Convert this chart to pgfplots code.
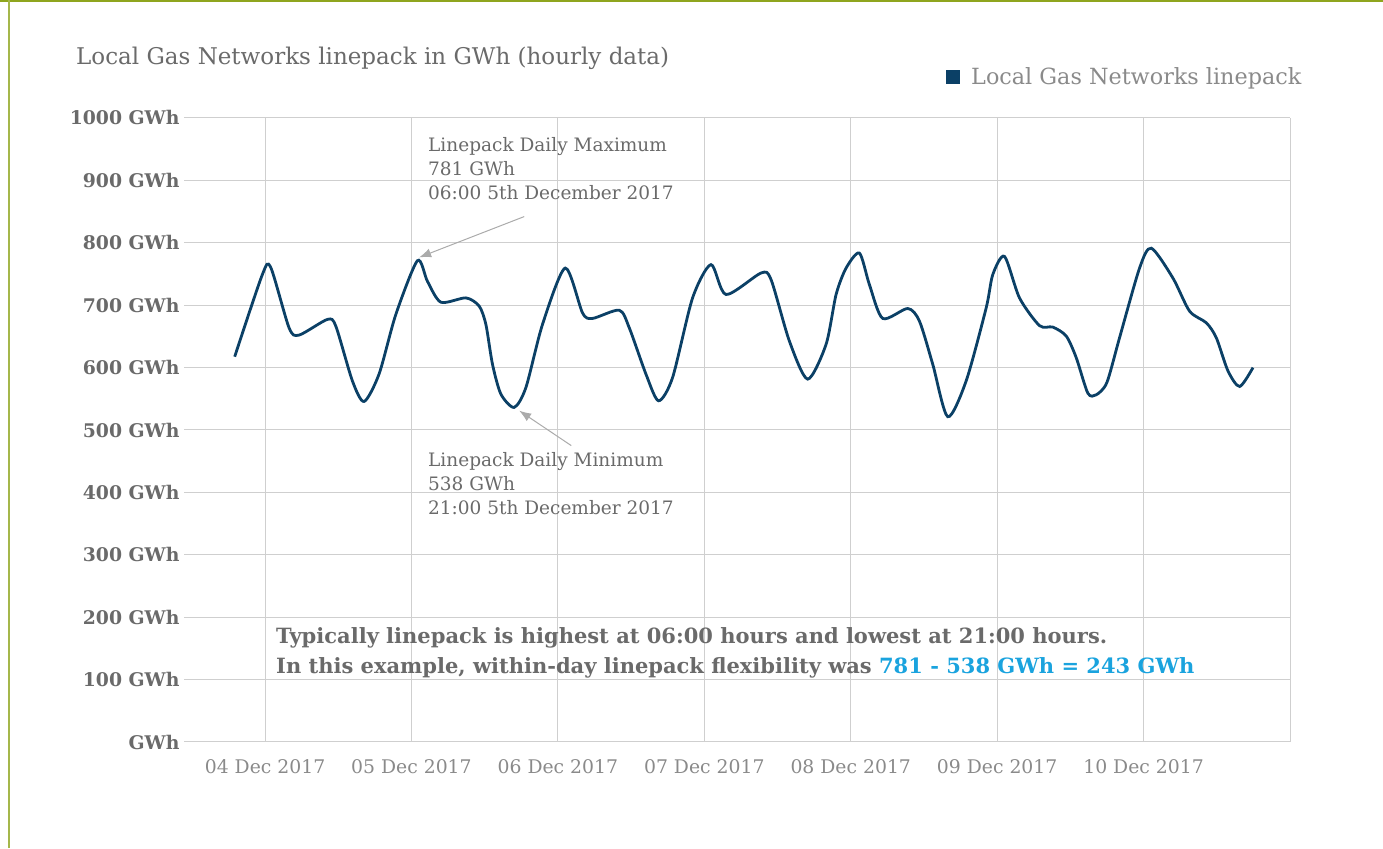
\documentclass[border=0pt]{standalone}
\usepackage{fontspec}
\setmainfont{DejaVu Serif}
\usepackage{pgfplots}
\pgfplotsset{compat=1.18}
\usetikzlibrary{arrows.meta}
\definecolor{linecol}{HTML}{0B4066}
\definecolor{txtgray}{HTML}{6A6A6A}
\definecolor{lightgray}{HTML}{8A8A8A}
\definecolor{gridcol}{HTML}{CFCFCF}
\definecolor{arrowcol}{HTML}{ABABAB}
\definecolor{bluetxt}{HTML}{1AA3DE}
\definecolor{bordercol}{HTML}{8FA51E}
\begin{document}
\begin{tikzpicture}[x=1pt,y=1pt]
\path[use as bounding box] (0,0) rectangle (1383,848);
\draw[bordercol, line width=2pt] (0,847) -- (1383,847);
\draw[bordercol!80, line width=2pt] (9,0) -- (9,848);
\begin{axis}[
  at={(184pt,106pt)}, anchor=south west,
  scale only axis, width=1106pt, height=624pt,
  xmin=-13.28, xmax=168, ymin=0, ymax=1000,
  axis line style={draw=none},
  tick style={draw=none},
  xtick={0,24,...,168},
  xticklabels={04 Dec 2017,05 Dec 2017,06 Dec 2017,07 Dec 2017,08 Dec 2017,09 Dec 2017,10 Dec 2017,},
  ytick={0,100,...,1000},
  yticklabels={GWh,100 GWh,200 GWh,300 GWh,400 GWh,500 GWh,600 GWh,700 GWh,800 GWh,900 GWh,1000 GWh},
  grid=major,
  grid style={gridcol, line width=1pt},
  x tick label style={font=\fontsize{18.8}{20}\selectfont, text=lightgray, yshift=-14pt},
  y tick label style={font=\bfseries\fontsize{18.8}{20}\selectfont, text=txtgray, xshift=-1pt},
  clip=false,
]
\addplot[linecol, line width=2.8pt, smooth, tension=0.45] coordinates {
(-4.97,617.5) (-0.44,749.0) (0.93,760.6) (3.94,663.8) (5.58,652.1) (10.22,677.2) (11.60,666.5)
(14.32,578.7) (16.24,545.7) (18.70,589.9) (21.44,685.2) (24.98,771.3) (26.62,738.3) (28.82,704.8)
(32.92,711.7) (35.10,698.6) (36.20,669.2) (37.28,605.4) (38.66,557.5) (40.84,536.2) (42.76,568.1)
(45.48,669.2) (49.20,759.5) (52.04,687.7) (53.68,678.8) (58.06,692.0) (59.70,663.8) (62.44,589.4)
(64.50,546.8) (66.80,584.0) (70.08,711.7) (73.10,765.0) (75.56,717.1) (81.30,751.6) (82.94,741.0)
(85.94,642.6) (88.94,581.5) (91.96,637.3) (93.60,717.1) (95.24,759.5) (97.42,783.5) (99.06,733.0)
(101.24,678.8) (105.34,694.7) (107.26,674.5) (109.44,605.4) (111.90,521.3) (114.92,578.7) (118.20,695.7)
(119.28,749.0) (121.20,778.2) (123.66,711.7) (126.94,667.3) (129.12,664.9) (131.32,650.6) (132.96,615.9)
(134.86,559.1) (136.24,556.4) (137.98,576.0) (140.06,647.8) (143.34,759.5) (145.26,791.4) (148.80,743.6)
(151.54,690.4) (154.28,671.8) (155.92,647.8) (157.83,594.7) (159.75,569.7) (161.93,600.0)
};
\draw[arrowcol, line width=1pt, -{Latex[length=12pt,width=9pt]}] (axis cs:42.48,842) -- (axis cs:25.26,776.6);
\draw[arrowcol, line width=1pt, -{Latex[length=12pt,width=9pt]}] (axis cs:50.19,475) -- (axis cs:41.66,531);
\end{axis}
% title
\node[anchor=base west, text=txtgray, font=\fontsize{23}{24}\selectfont, inner sep=0pt] at (76,783) {Local Gas Networks linepack in GWh (hourly data)};
% legend
\fill[linecol] (946,764) rectangle (960,778);
\node[anchor=base west, text=lightgray, font=\fontsize{22.3}{24}\selectfont, inner sep=0pt] at (971,763) {Local Gas Networks linepack};
% annotations
\begin{scope}[every node/.style={anchor=base west, text=txtgray, font=\fontsize{18.5}{24}\selectfont, inner sep=0pt}]
\node at (428,696) {Linepack Daily Maximum};
\node at (428,672) {781 GWh};
\node at (428,648) {06:00 5th December 2017};
\node at (428,381) {Linepack Daily Minimum};
\node at (428,357) {538 GWh};
\node at (428,333) {21:00 5th December 2017};
\end{scope}
% bottom note
\begin{scope}[every node/.style={anchor=base west, text=txtgray, font=\bfseries\fontsize{21}{30}\selectfont, inner sep=0pt}]
\node at (276,204) {Typically linepack is highest at 06:00 hours and lowest at 21:00 hours.};
\node at (276,174) {In this example, within-day linepack flexibility was \textcolor{bluetxt}{781 - 538 GWh = 243 GWh}};
\end{scope}
\end{tikzpicture}
\end{document}
